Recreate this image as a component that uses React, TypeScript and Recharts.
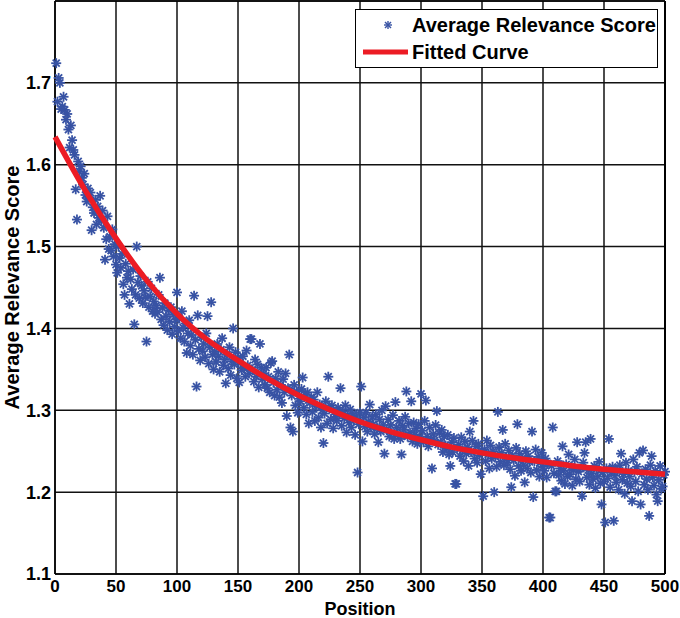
import { CartesianGrid, ComposedChart, ReferenceLine, Scatter, XAxis, YAxis } from 'recharts';

// average relevance score per position 1..500
const scores = [
  1.724, 1.677, 1.706, 1.700, 1.668, 1.671, 1.683, 1.667, 1.655, 1.662,
  1.643, 1.621, 1.648, 1.630, 1.618, 1.612, 1.570, 1.533, 1.604, 1.592,
  1.598, 1.584, 1.576, 1.589, 1.563, 1.555, 1.571, 1.560, 1.566, 1.520,
  1.548, 1.541, 1.557, 1.527, 1.549, 1.535, 1.562, 1.531, 1.544, 1.523,
  1.484, 1.509, 1.537, 1.497, 1.512, 1.495, 1.521, 1.488, 1.503, 1.478,
  1.468, 1.500, 1.486, 1.474, 1.491, 1.454, 1.441, 1.479, 1.462, 1.470,
  1.430, 1.460, 1.448, 1.472, 1.405, 1.441, 1.500, 1.456, 1.437, 1.464,
  1.452, 1.431, 1.446, 1.438, 1.384, 1.457, 1.426, 1.439, 1.449, 1.421,
  1.433, 1.418, 1.428, 1.420, 1.441, 1.462, 1.411, 1.425, 1.404, 1.431,
  1.415, 1.398, 1.422, 1.408, 1.426, 1.393, 1.417, 1.402, 1.411, 1.444,
  1.397, 1.412, 1.388, 1.421, 1.401, 1.384, 1.406, 1.370, 1.394, 1.410,
  1.379, 1.392, 1.368, 1.440, 1.386, 1.329, 1.416, 1.375, 1.361, 1.389,
  1.372, 1.381, 1.365, 1.394, 1.415, 1.357, 1.377, 1.432, 1.368, 1.350,
  1.372, 1.359, 1.381, 1.366, 1.347, 1.374, 1.388, 1.355, 1.362, 1.333,
  1.368, 1.351, 1.377, 1.343, 1.360, 1.400, 1.356, 1.371, 1.339, 1.364,
  1.334, 1.358, 1.349, 1.366, 1.352, 1.341, 1.373, 1.355, 1.345, 1.387,
  1.387, 1.349, 1.335, 1.362, 1.341, 1.356, 1.328, 1.381, 1.352, 1.338,
  1.345, 1.331, 1.352, 1.327, 1.341, 1.322, 1.358, 1.360, 1.334, 1.318,
  1.339, 1.325, 1.347, 1.316, 1.331, 1.309, 1.338, 1.322, 1.345, 1.293,
  1.327, 1.368, 1.279, 1.318, 1.274, 1.331, 1.306, 1.323, 1.297, 1.314,
  1.311, 1.326, 1.340, 1.303, 1.319, 1.295, 1.322, 1.284, 1.309, 1.316,
  1.298, 1.313, 1.287, 1.305, 1.322, 1.291, 1.307, 1.279, 1.300, 1.260,
  1.296, 1.311, 1.284, 1.341, 1.302, 1.289, 1.306, 1.278, 1.298, 1.292,
  1.287, 1.303, 1.295, 1.327, 1.281, 1.299, 1.290, 1.306, 1.273, 1.294,
  1.285, 1.301, 1.279, 1.296, 1.288, 1.270, 1.293, 1.224, 1.283, 1.297,
  1.329, 1.262, 1.291, 1.280, 1.297, 1.274, 1.286, 1.307, 1.279, 1.292,
  1.283, 1.271, 1.295, 1.278, 1.261, 1.289, 1.274, 1.300, 1.282, 1.247,
  1.305, 1.276, 1.289, 1.268, 1.282, 1.272, 1.294, 1.265, 1.310, 1.279,
  1.271, 1.287, 1.265, 1.246, 1.281, 1.276, 1.292, 1.323, 1.268, 1.284,
  1.273, 1.311, 1.262, 1.285, 1.270, 1.278, 1.259, 1.283, 1.267, 1.320,
  1.275, 1.261, 1.287, 1.312, 1.268, 1.256, 1.279, 1.264, 1.229, 1.271,
  1.263, 1.282, 1.299, 1.258, 1.272, 1.261, 1.276, 1.249, 1.268, 1.257,
  1.253, 1.270, 1.246, 1.232, 1.261, 1.249, 1.266, 1.210, 1.210, 1.255,
  1.258, 1.244, 1.267, 1.251, 1.238, 1.262, 1.247, 1.255, 1.232, 1.274,
  1.249, 1.263, 1.287, 1.241, 1.256, 1.236, 1.259, 1.245, 1.222, 1.251,
  1.195, 1.252, 1.238, 1.263, 1.246, 1.229, 1.257, 1.241, 1.250, 1.200,
  1.244, 1.231, 1.298, 1.255, 1.237, 1.248, 1.276, 1.233, 1.259, 1.242,
  1.236, 1.251, 1.228, 1.206, 1.245, 1.239, 1.220, 1.254, 1.283, 1.232,
  1.247, 1.226, 1.241, 1.233, 1.212, 1.250, 1.229, 1.244, 1.237, 1.224,
  1.274, 1.194, 1.238, 1.252, 1.227, 1.243, 1.219, 1.236, 1.248, 1.231,
  1.226, 1.241, 1.218, 1.235, 1.169, 1.169, 1.232, 1.279, 1.223, 1.201,
  1.201, 1.238, 1.221, 1.229, 1.214, 1.256, 1.226, 1.210, 1.234, 1.219,
  1.246, 1.222, 1.231, 1.208, 1.227, 1.240, 1.216, 1.261, 1.225, 1.213,
  1.229, 1.195, 1.236, 1.248, 1.261, 1.218, 1.227, 1.209, 1.265, 1.223,
  1.216, 1.232, 1.205, 1.228, 1.219, 1.237, 1.211, 1.185, 1.224, 1.213,
  1.163, 1.229, 1.217, 1.265, 1.206, 1.224, 1.231, 1.165, 1.220, 1.212,
  1.227, 1.203, 1.233, 1.247, 1.215, 1.222, 1.198, 1.236, 1.211, 1.226,
  1.219, 1.207, 1.189, 1.240, 1.225, 1.213, 1.231, 1.201, 1.248, 1.185,
  1.222, 1.251, 1.209, 1.228, 1.216, 1.203, 1.171, 1.233, 1.244, 1.218,
  1.208, 1.226, 1.197, 1.189, 1.215, 1.232, 1.204, 1.207, 1.221, 1.225,
];

// fitted curve, sampled every 25 positions
const fitX = [0, 25, 50, 75, 100, 125, 150, 175, 200, 225, 250, 275, 300, 325, 350, 375, 400, 425, 450, 475, 500];
const fitY = [1.634, 1.568, 1.51, 1.459, 1.418, 1.386, 1.361, 1.338, 1.318, 1.301, 1.286, 1.274, 1.264, 1.255, 1.248, 1.242, 1.237, 1.232, 1.228, 1.225, 1.222];

const xTicks = [0, 50, 100, 150, 200, 250, 300, 350, 400, 450, 500];
const yTicks = [1.1, 1.2, 1.3, 1.4, 1.5, 1.6, 1.7];

const BLUE = '#3853a4';
const RED = '#ec1c24';
const FONT = '"Liberation Sans", Arial, sans-serif';

const points = scores.map((s, i) => ({ x: i + 1, y: s }));
const fit = fitX.map((x, i) => ({ x, y: fitY[i] }));

const Star = (props: any) => {
  const { cx, cy } = props;
  const r = 5;
  const d = 3.5;
  return (
    <g stroke={BLUE} strokeWidth={1.8}>
      <line x1={cx - r} y1={cy} x2={cx + r} y2={cy} />
      <line x1={cx} y1={cy - r} x2={cx} y2={cy + r} />
      <line x1={cx - d} y1={cy - d} x2={cx + d} y2={cy + d} />
      <line x1={cx - d} y1={cy + d} x2={cx + d} y2={cy - d} />
    </g>
  );
};

const LegendBox = () => (
  <div
    style={{
      position: 'absolute',
      left: 355,
      top: 9,
      width: 301,
      height: 57,
      border: '1px solid #000',
      background: '#fff',
      fontFamily: FONT,
      fontWeight: 'bold',
      fontSize: 20,
      lineHeight: '22px',
      color: '#000',
    }}
  >
    <svg width={60} height={57} style={{ position: 'absolute', left: 0, top: 0 }}>
      <g stroke={BLUE} strokeWidth={1.4}>
        <line x1={28} y1={15} x2={36} y2={15} />
        <line x1={32} y1={11} x2={32} y2={19} />
        <line x1={29} y1={12} x2={35} y2={18} />
        <line x1={29} y1={18} x2={35} y2={12} />
      </g>
      <line x1={7} y1={42} x2={52} y2={42} stroke={RED} strokeWidth={5} />
    </svg>
    <div style={{ position: 'absolute', left: 56, top: 4, whiteSpace: 'nowrap' }}>Average Relevance Score</div>
    <div style={{ position: 'absolute', left: 56, top: 31, whiteSpace: 'nowrap' }}>Fitted Curve</div>
  </div>
);

const App = () => {
  return (
    <div style={{ position: 'relative', width: 680, height: 618 }}>
      <style>{'body{margin:0;background:#fff}'}</style>
      <ComposedChart width={680} height={618} margin={{ top: 1, right: 15, bottom: 0, left: 0 }}>
        <CartesianGrid stroke='#111' strokeWidth={1.5} />
        <XAxis
          type='number'
          dataKey='x'
          domain={[0, 500]}
          ticks={xTicks}
          interval={0}
          height={44}
          stroke='#000'
          strokeWidth={1.5}
          tickSize={0}
          tickMargin={6}
          tick={{ fill: '#000', fontFamily: FONT, fontWeight: 'bold', fontSize: 17 }}
          label={{ value: 'Position', position: 'insideBottom', offset: 3, fill: '#000', fontFamily: FONT, fontWeight: 'bold', fontSize: 18 }}
        />
        <YAxis
          type='number'
          dataKey='y'
          domain={[1.1, 1.8]}
          ticks={yTicks}
          interval={0}
          width={55}
          stroke='#000'
          strokeWidth={1.5}
          tickSize={0}
          tickMargin={4}
          tick={{ fill: '#000', fontFamily: FONT, fontWeight: 'bold', fontSize: 18 }}
          label={{
            value: 'Average Relevance Score',
            angle: -90,
            position: 'insideLeft',
            offset: 12,
            fill: '#000',
            fontFamily: FONT,
            fontWeight: 'bold',
            fontSize: 20,
            style: { textAnchor: 'middle' },
          }}
        />
        <ReferenceLine y={1.8} stroke='#000' strokeWidth={1.5} />
        <ReferenceLine x={500} stroke='#000' strokeWidth={2} />
        <Scatter data={points} dataKey='y' shape={Star} isAnimationActive={false} />
        <Scatter
          data={fit}
          dataKey='y'
          shape={() => <g />}
          line={{ stroke: RED, strokeWidth: 5.5 }}
          lineJointType='monotoneX'
          isAnimationActive={false}
        />
      </ComposedChart>
      <LegendBox />
    </div>
  );
};

export default App;
